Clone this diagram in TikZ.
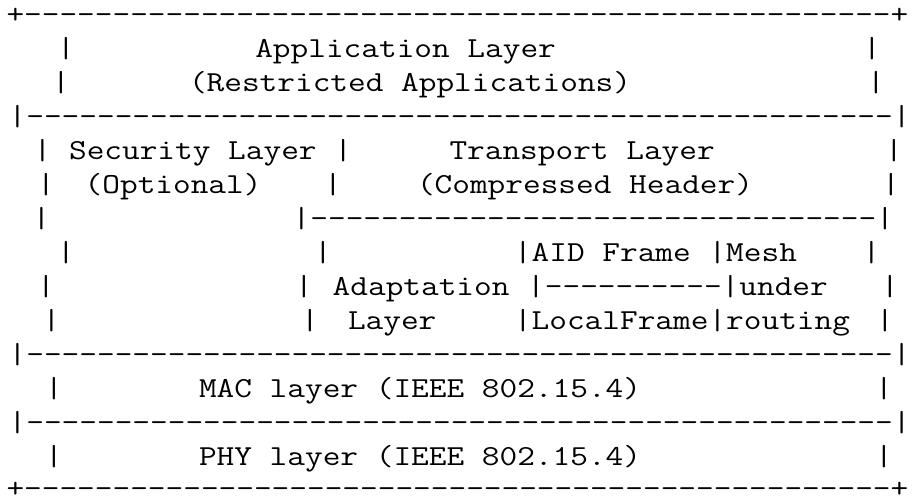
\documentclass[tikz,border=0pt]{standalone}
\usepackage{fontspec}
\usepackage{graphicx}
\newcount\dashcnt
\newcommand\dashes[1]{\dashcnt=0\relax\loop\ifnum\dashcnt<#1\relax\hbox{-}\advance\dashcnt by 1\relax\repeat}
\newcommand\widetxt[1]{\scalebox{1.184}[1]{#1}}
\begin{document}
\begin{tikzpicture}[x=1pt,y=-1pt,
  ascii/.style={inner sep=0pt, outer sep=0pt, anchor=base west,
    font=\ttfamily\fontsize{29pt}{34pt}\selectfont, text=black}]
\useasboundingbox[fill=white] (0,0) rectangle (921,500);
% line 1
\node[ascii] (r1) at (6.5,23.5) {\widetxt{+\dashes{49}+}};
% line 2
\node[ascii] (r2a) at (57,57.5) {\widetxt{|}};
\node[ascii] (r2b) at (255.3,57.5) {\widetxt{Application Layer}};
\node[ascii] (r2c) at (863,57.5) {\widetxt{|}};
% line 3
\node[ascii] (r3a) at (52,91.5) {\widetxt{|}};
\node[ascii] (r3b) at (189,91.5) {\widetxt{(Restricted Applications)}};
\node[ascii] (r3c) at (867,91.5) {\widetxt{|}};
% line 4
\node[ascii] (r4) at (8.7,125.5) {\widetxt{|\dashes{49}|}};
% line 5
\node[ascii] (r5a) at (33.7,159.5) {\widetxt{| Security Layer |}};
\node[ascii] (r5b) at (449.5,159.5) {\widetxt{Transport Layer}};
\node[ascii] (r5c) at (885,159.5) {\widetxt{|}};
% line 6
\node[ascii] (r6a) at (37,193.5) {\widetxt{|}};
\node[ascii] (r6b) at (84.7,193.5) {\widetxt{(Optional)}};
\node[ascii] (r6c) at (324,193.5) {\widetxt{|}};
\node[ascii] (r6d) at (417,193.5) {\widetxt{(Compressed Header)}};
\node[ascii] (r6e) at (882,193.5) {\widetxt{|}};
% line 7
\node[ascii] (r7a) at (32.7,227.5) {\widetxt{|}};
\node[ascii] (r7b) at (292.7,227.5) {\widetxt{|\dashes{32}|}};
% line 8
\node[ascii] (r8a) at (57,261.5) {\widetxt{|}};
\node[ascii] (r8b) at (314,261.5) {\widetxt{|}};
\node[ascii] (r8c) at (514,261.5) {\widetxt{|AID Frame |Mesh}};
\node[ascii] (r8d) at (862.7,261.5) {\widetxt{|}};
% line 9
\node[ascii] (r9a) at (37,295.5) {\widetxt{|}};
\node[ascii] (r9b) at (295,295.5) {\widetxt{|}};
\node[ascii] (r9c) at (332.7,295.5) {\widetxt{Adaptation |\dashes{10}|under}};
\node[ascii] (r9d) at (881,295.5) {\widetxt{|}};
% line 10
\node[ascii] (r10a) at (42.7,329.5) {\widetxt{|}};
\node[ascii] (r10b) at (301,329.5) {\widetxt{|}};
\node[ascii] (r10c) at (348,329.5) {\widetxt{Layer}};
\node[ascii] (r10d) at (514,329.5) {\widetxt{|LocalFrame|routing}};
\node[ascii] (r10e) at (876,329.5) {\widetxt{|}};
% line 11
\node[ascii] (r11) at (8.7,363.5) {\widetxt{|\dashes{49}|}};
% line 12
\node[ascii] (r12a) at (45,397.5) {\widetxt{|}};
\node[ascii] (r12b) at (199,397.5) {\widetxt{MAC layer (IEEE 802.15.4)}};
\node[ascii] (r12c) at (875,397.5) {\widetxt{|}};
% line 13
\node[ascii] (r13) at (8.7,431.5) {\widetxt{|\dashes{49}|}};
% line 14
\node[ascii] (r14a) at (45,465.5) {\widetxt{|}};
\node[ascii] (r14b) at (199,465.5) {\widetxt{PHY layer (IEEE 802.15.4)}};
\node[ascii] (r14c) at (875,465.5) {\widetxt{|}};
% line 15
\node[ascii] (r15) at (6.5,497.8) {\widetxt{+\dashes{49}+}};
\end{tikzpicture}
\end{document}
